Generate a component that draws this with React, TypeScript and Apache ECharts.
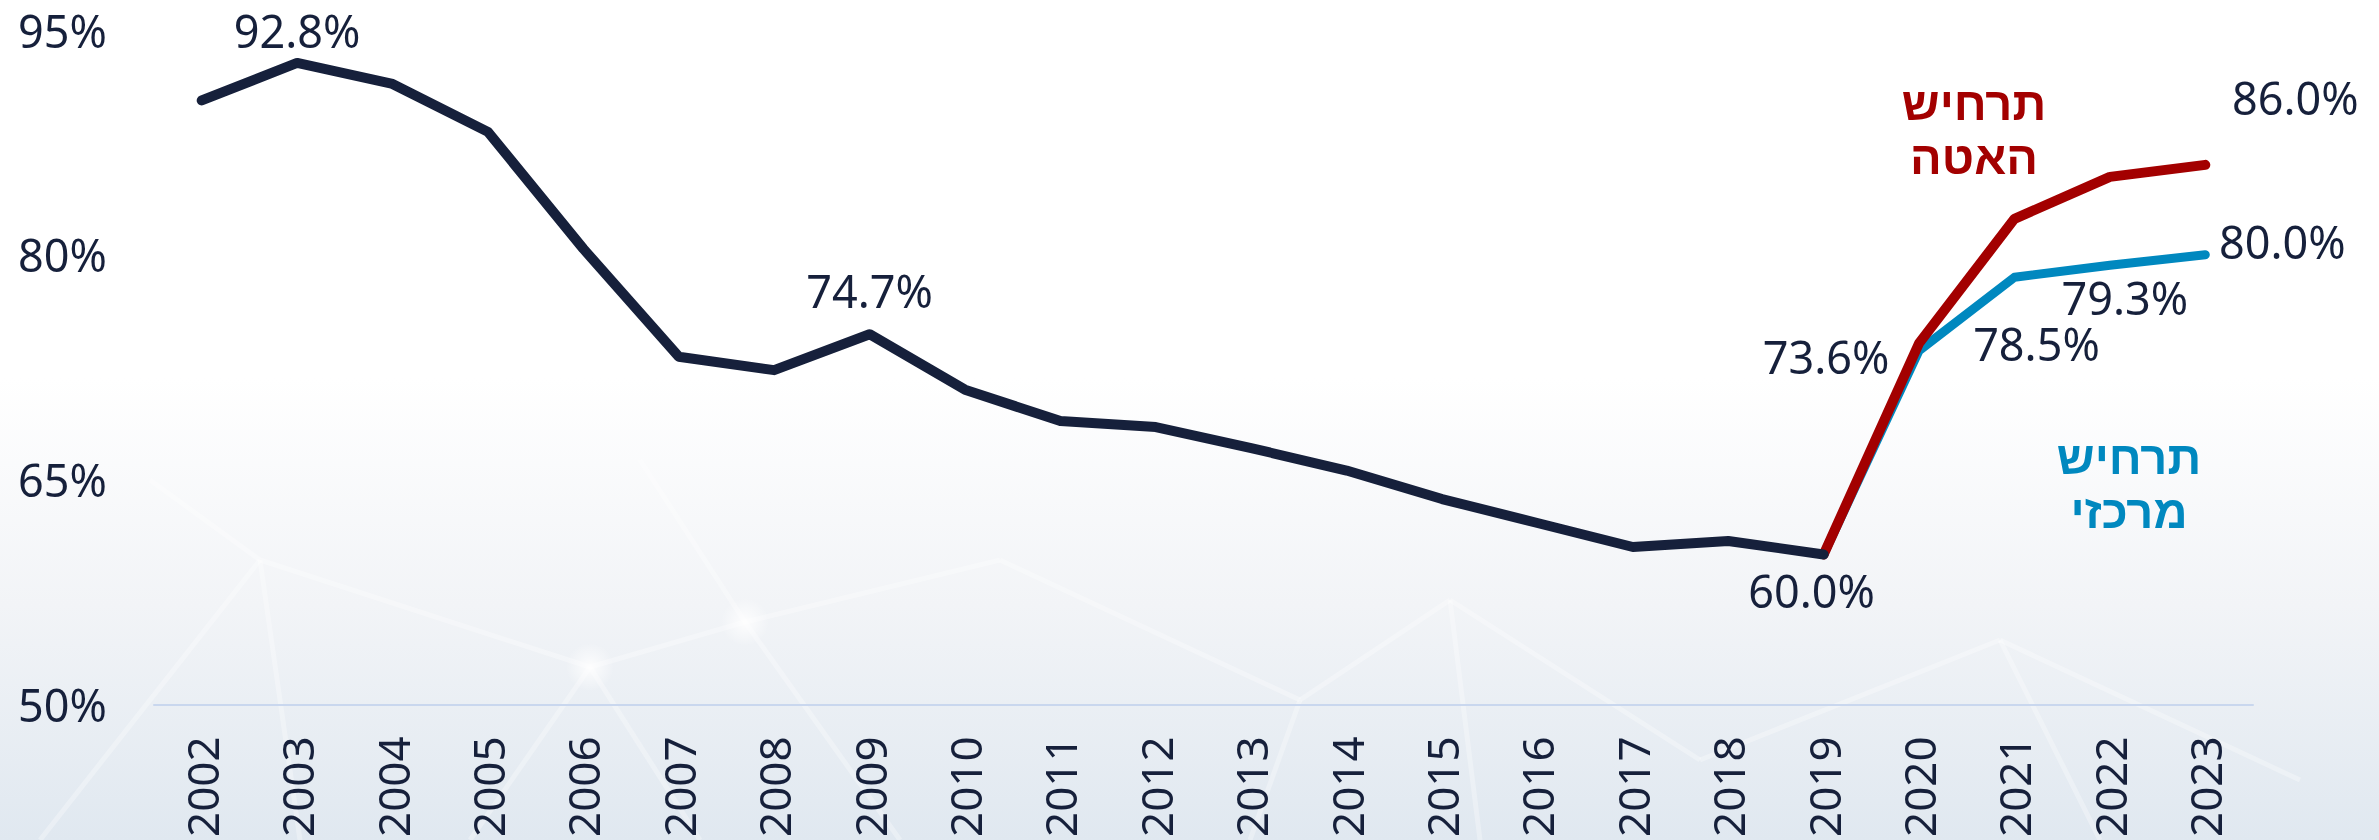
import React, { useEffect, useRef } from 'react';
import * as echarts from 'echarts';

const years = ['2002','2003','2004','2005','2006','2007','2008','2009','2010','2011','2012','2013','2014','2015','2016','2017','2018','2019','2020','2021','2022','2023'];
const history = [90.3, 92.8, 91.4, 88.2, 80.4, 73.2, 72.3, 74.7, 71.0, 68.9, 68.5, 67.1, 65.6, 63.7, 62.1, 60.5, 60.9, 60.0, null, null, null, null];
const slowdown = [null, null, null, null, null, null, null, null, null, null, null, null, null, null, null, null, null, 60.0, 74.1, 82.4, 85.2, 86.0];
const central = [null, null, null, null, null, null, null, null, null, null, null, null, null, null, null, null, null, 60.0, 73.6, 78.5, 79.3, 80.0];
const yTicks = [50, 65, 80, 95];
const slowdownName = 'תרחיש\nהאטה';
const centralName = 'תרחיש\nמרכזי';

const NAVY = '#16203b';
const RED = '#a30000';
const BLUE = '#0088bf';
const FONT = '"Noto Sans", sans-serif';
const HEB_FONT = '"Liberation Sans", "DejaVu Sans", sans-serif';

function buildData(values: (number | null)[], labels: Record<number, number[]>) {
  return values.map((v, i) => {
    if (v === null) return null;
    const off = labels[i];
    if (!off) return v;
    return {
      value: v,
      label: {
        show: true,
        position: 'inside',
        offset: off,
        formatter: (p: any) => Number(p.value).toFixed(1) + '%',
        color: NAVY,
        fontSize: 45,
        fontFamily: FONT,
      },
    };
  });
}

const bgLines: number[][] = [
  [40, 840, 260, 560], [260, 560, 590, 667], [590, 667, 745, 622], [745, 622, 1000, 560],
  [590, 667, 470, 840], [590, 667, 700, 840], [745, 622, 640, 460], [745, 622, 900, 840],
  [260, 560, 300, 840], [1000, 560, 1300, 700], [1300, 700, 1450, 600], [1450, 600, 1700, 760],
  [150, 480, 260, 560], [1450, 600, 1480, 840], [1700, 760, 2000, 640], [2000, 640, 2300, 780],
  [1300, 700, 1250, 840], [2000, 640, 2100, 840],
];

export default function App() {
  const ref = useRef<HTMLDivElement>(null);
  useEffect(() => {
    if (!ref.current) return;
    const chart = echarts.init(ref.current, null, { renderer: 'svg' });
    const graphics: any[] = [
      {
        type: 'rect', x: 0, y: 0, z: -100, silent: true,
        shape: { width: 2379, height: 840 },
        style: {
          fill: new echarts.graphic.LinearGradient(0, 0, 0, 1, [
            { offset: 0, color: '#ffffff' },
            { offset: 0.45, color: '#ffffff' },
            { offset: 0.72, color: '#f2f4f7' },
            { offset: 1, color: '#e0e8f0' },
          ]),
        },
      },
      ...bgLines.map((l) => ({
        type: 'line', z: -90, silent: true,
        shape: { x1: l[0], y1: l[1], x2: l[2], y2: l[3] },
        style: { stroke: 'rgba(255,255,255,0.3)', lineWidth: 5 },
      })),
      ...[[590, 667], [745, 622]].map((c) => ({
        type: 'circle', z: -89, silent: true,
        shape: { cx: c[0], cy: c[1], r: 24 },
        style: {
          fill: new echarts.graphic.RadialGradient(0.5, 0.5, 0.5, [
            { offset: 0, color: 'rgba(255,255,255,0.85)' },
            { offset: 1, color: 'rgba(255,255,255,0)' },
          ]),
        },
      })),
      {
        type: 'text', x: 1974, y: 130, z: 10,
        style: {
          text: slowdownName, fill: RED, fontSize: 47, fontWeight: 'bold',
          fontFamily: HEB_FONT, align: 'center', verticalAlign: 'middle', lineHeight: 54,
        },
      },
      {
        type: 'text', x: 2129, y: 484, z: 10,
        style: {
          text: centralName, fill: BLUE, fontSize: 47, fontWeight: 'bold',
          fontFamily: HEB_FONT, align: 'center', verticalAlign: 'middle', lineHeight: 54,
        },
      },
    ];

    const lineCommon = {
      type: 'line',
      symbol: 'circle',
      symbolSize: 1,
      showSymbol: true,
      connectNulls: false,
      emphasis: { disabled: true },
    };

    chart.setOption({
      animation: false,
      grid: { left: 154, right: 126, top: 30, bottom: 133 },
      graphic: graphics,
      xAxis: {
        type: 'category',
        data: years,
        boundaryGap: true,
        axisLine: { show: true, lineStyle: { color: '#c9d7ee', width: 2 } },
        axisTick: { show: false },
        axisLabel: { rotate: 90, margin: 32, color: NAVY, fontSize: 44, fontFamily: FONT, interval: 0 },
        splitLine: { show: false },
      },
      yAxis: {
        type: 'value',
        min: 50,
        max: 95,
        interval: 5,
        axisLine: { show: false },
        axisTick: { show: false },
        splitLine: { show: false },
        axisLabel: {
          align: 'left',
          margin: 136,
          color: NAVY,
          fontSize: 45,
          fontFamily: FONT,
          formatter: (v: number) => (yTicks.indexOf(v) >= 0 ? v + '%' : ''),
        },
      },
      series: [
        {
          ...lineCommon,
          name: 'central',
          data: buildData(central, { 18: [-93, 6], 19: [22, 66], 20: [15, 32], 21: [77, -13] }),
          itemStyle: { color: BLUE },
          lineStyle: { color: BLUE, width: 9, cap: 'round', join: 'round' },
          z: 3,
        },
        {
          ...lineCommon,
          name: 'slowdown',
          data: buildData(slowdown, { 21: [90, -67] }),
          itemStyle: { color: RED },
          lineStyle: { color: RED, width: 10, cap: 'round', join: 'round' },
          z: 4,
        },
        {
          ...lineCommon,
          name: 'history',
          data: buildData(history, { 1: [0, -32], 7: [0, -44], 17: [-12, 36] }),
          itemStyle: { color: NAVY },
          lineStyle: { color: NAVY, width: 10, cap: 'round', join: 'round' },
          z: 5,
        },
      ],
    });
    return () => chart.dispose();
  }, []);
  return <div ref={ref} style={{ position: 'fixed', left: 0, top: 0, width: 2379, height: 840 }} />;
}
